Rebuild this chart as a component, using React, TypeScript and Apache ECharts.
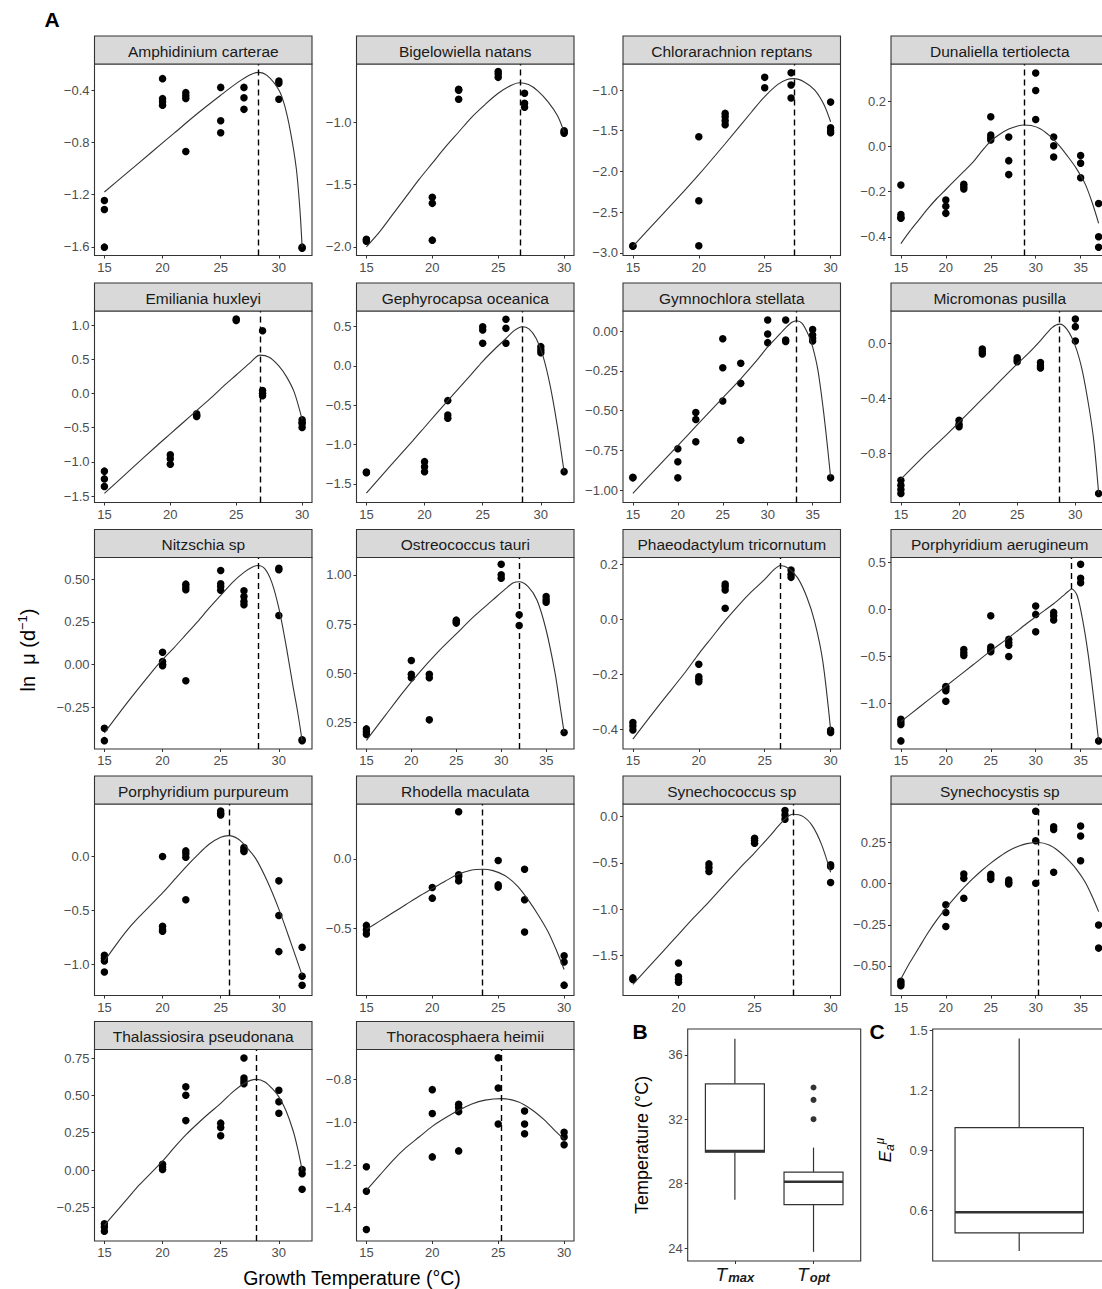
import React, { useEffect, useRef } from "react";
import * as echarts from "echarts";

const FONT = "'Liberation Sans', Arial, Helvetica, sans-serif";

// ---------- DATA ----------
const speciesNames = [
  "Amphidinium carterae", "Bigelowiella natans", "Chlorarachnion reptans", "Dunaliella tertiolecta",
  "Emiliania huxleyi", "Gephyrocapsa oceanica", "Gymnochlora stellata", "Micromonas pusilla",
  "Nitzschia sp", "Ostreococcus tauri", "Phaeodactylum tricornutum", "Porphyridium aerugineum",
  "Porphyridium purpureum", "Rhodella maculata", "Synechococcus sp", "Synechocystis sp",
  "Thalassiosira pseudonana", "Thoracosphaera heimii",
];

// growth temperature (°C), ln growth rate
const amphidiniumPoints = [[15,-1.245],[15,-1.314],[15,-1.602],[20,-0.313],[20,-0.466],[20,-0.489],[20,-0.517],[22,-0.42],[22,-0.443],[22,-0.464],[22,-0.87],[25,-0.38],[25,-0.635],[25,-0.727],[27,-0.38],[27,-0.459],[27,-0.548],[30,-0.331],[30,-0.349],[30,-0.471],[32,-1.602],[32,-1.61]];
const amphidiniumCurve = [[15,-1.18],[17,-1.03],[19,-0.88],[21,-0.73],[23,-0.58],[25,-0.44],[26.5,-0.34],[27.5,-0.285],[28.2,-0.265],[29,-0.29],[30,-0.4],[30.5,-0.52],[31,-0.72],[31.5,-1.0],[31.8,-1.3],[32,-1.6]];

const bigelowiellaPoints = [[15,-1.94],[15,-1.955],[15,-1.945],[20,-1.604],[20,-1.652],[20,-1.947],[22,-0.738],[22,-0.818],[22,-0.745],[25,-0.596],[25,-0.615],[25,-0.642],[27,-0.77],[27,-0.85],[27,-0.882],[30,-1.07],[30,-1.08],[30,-1.09]];
const bigelowiellaCurve = [[15,-2.0],[16,-1.88],[17,-1.74],[18,-1.6],[19,-1.46],[20,-1.33],[21,-1.2],[22,-1.08],[23,-0.96],[24,-0.86],[25,-0.77],[26,-0.705],[26.6,-0.685],[27.3,-0.7],[28,-0.75],[28.8,-0.84],[29.5,-0.95],[30,-1.08]];

const chlorarachnionPoints = [[15,-2.914],[15,-2.92],[20,-1.574],[20,-2.361],[20,-2.914],[22,-1.287],[22,-1.328],[22,-1.377],[22,-1.426],[25,-0.844],[25,-0.971],[27,-0.787],[27,-0.939],[27,-1.098],[30,-1.148],[30,-1.463],[30,-1.5],[30,-1.525]];
const chlorarachnionCurve = [[15,-2.92],[17,-2.57],[19,-2.22],[20,-2.04],[22,-1.66],[24,-1.27],[25,-1.08],[26,-0.93],[26.7,-0.87],[27.2,-0.86],[28,-0.9],[28.8,-1.0],[29.5,-1.18],[30,-1.39]];

const dunaliellaPoints = [[15,-0.17],[15,-0.301],[15,-0.314],[15,-0.318],[20,-0.237],[20,-0.264],[20,-0.296],[22,-0.167],[22,-0.178],[22,-0.188],[25,0.133],[25,0.052],[25,0.04],[25,0.03],[27,0.043],[27,-0.062],[27,-0.124],[30,0.327],[30,0.249],[30,0.121],[32,0.043],[32,0.004],[32,-0.046],[35,-0.039],[35,-0.073],[35,-0.138],[37,-0.252],[37,-0.4],[37,-0.446]];
const dunaliellaCurve = [[15,-0.43],[16,-0.375],[17,-0.325],[18,-0.275],[19,-0.23],[20,-0.19],[21,-0.15],[22,-0.11],[23,-0.07],[24,-0.02],[25,0.025],[26,0.055],[27,0.078],[28,0.092],[28.7,0.096],[29.5,0.094],[30.5,0.08],[31.5,0.05],[32.5,0.01],[33.5,-0.04],[34.5,-0.095],[35.5,-0.165],[36.3,-0.25],[37,-0.34]];

const emilianiaPoints = [[15,-1.135],[15,-1.248],[15,-1.36],[20,-0.897],[20,-0.955],[20,-1.033],[22,-0.297],[22,-0.32],[22,-0.336],[25,1.087],[25,1.067],[27,0.916],[27,0.044],[27,0.005],[27,-0.034],[30,-0.385],[30,-0.42],[30,-0.443],[30,-0.497]];
const emilianiaCurve = [[15,-1.46],[17,-1.11],[19,-0.76],[20,-0.59],[21,-0.42],[22,-0.25],[23,-0.08],[24,0.1],[25,0.27],[26,0.44],[26.8,0.56],[27.5,0.53],[28.2,0.41],[28.8,0.25],[29.4,0.02],[30,-0.38]];

const gephyrocapsaPoints = [[15,-1.35],[15,-1.36],[20,-1.218],[20,-1.282],[20,-1.345],[22,-0.441],[22,-0.624],[22,-0.666],[25,0.5],[25,0.458],[25,0.289],[27,0.594],[27,0.479],[27,0.289],[30,0.246],[30,0.204],[30,0.17],[32,-1.345]];
const gephyrocapsaCurve = [[15,-1.62],[17,-1.28],[19,-0.95],[20,-0.78],[22,-0.44],[24,-0.11],[25,0.06],[26,0.21],[27,0.35],[27.7,0.45],[28.4,0.5],[29,0.47],[29.6,0.35],[30.2,0.12],[30.8,-0.25],[31.4,-0.75],[32,-1.35]];

const gymnochloraPoints = [[15,-0.923],[15,-0.92],[20,-0.74],[20,-0.822],[20,-0.923],[22,-0.512],[22,-0.556],[22,-0.696],[25,-0.048],[25,-0.231],[25,-0.44],[27,-0.203],[27,-0.329],[27,-0.686],[30,0.069],[30,-0.019],[30,-0.073],[32,0.069],[32,-0.057],[32,-0.065],[35,0.01],[35,-0.025],[35,-0.046],[35,-0.063],[37,-0.923]];
const gymnochloraCurve = [[15,-1.02],[17,-0.9],[19,-0.78],[21,-0.66],[23,-0.54],[25,-0.42],[27,-0.3],[29,-0.17],[30,-0.1],[31,-0.04],[32,0.02],[32.7,0.055],[33.2,0.065],[33.8,0.05],[34.5,-0.02],[35,-0.1],[35.6,-0.25],[36.2,-0.5],[36.6,-0.7],[37,-0.92]];

const micromonasPoints = [[15,-0.998],[15,-1.034],[15,-1.066],[15,-1.095],[20,-0.56],[20,-0.589],[20,-0.608],[22,-0.041],[22,-0.061],[22,-0.078],[25,-0.105],[25,-0.122],[25,-0.134],[27,-0.139],[27,-0.163],[27,-0.18],[30,0.178],[30,0.122],[30,0.017],[32,-1.095]];
const micromonasCurve = [[15,-0.99],[17,-0.82],[19,-0.66],[21,-0.49],[23,-0.32],[25,-0.15],[26,-0.07],[27,0.02],[28,0.115],[28.65,0.14],[29.3,0.1],[30,-0.02],[30.6,-0.2],[31.2,-0.48],[31.6,-0.72],[32,-1.09]];

const nitzschiaPoints = [[15,-0.373],[15,-0.445],[20,0.072],[20,0.018],[20,0.002],[20,-0.006],[22,0.471],[22,0.455],[22,0.438],[22,-0.094],[25,0.551],[25,0.473],[25,0.457],[25,0.436],[27,0.432],[27,0.398],[27,0.369],[27,0.35],[30,0.564],[30,0.555],[30,0.287],[32,-0.445],[32,-0.44]];
const nitzschiaCurve = [[15,-0.4],[17,-0.22],[19,-0.05],[20,0.03],[21,0.1],[22,0.175],[23,0.25],[24,0.33],[25,0.405],[26,0.48],[27,0.54],[27.7,0.57],[28.2,0.58],[28.8,0.56],[29.4,0.48],[30,0.33],[30.6,0.12],[31.2,-0.12],[31.6,-0.27],[32,-0.445]];

const ostreococcusPoints = [[15,0.218],[15,0.204],[15,0.19],[20,0.565],[20,0.495],[20,0.478],[22,0.495],[22,0.478],[22,0.264],[25,0.77],[25,0.76],[25,0.755],[30,1.054],[30,1.0],[30,0.983],[32,0.797],[32,0.743],[35,0.89],[35,0.873],[35,0.861],[37,0.2]];
const ostreococcusCurve = [[15,0.16],[17,0.28],[19,0.4],[21,0.51],[23,0.61],[25,0.7],[27,0.79],[29,0.87],[30.5,0.93],[31.3,0.958],[32,0.965],[33,0.94],[34,0.87],[35,0.72],[36,0.5],[36.5,0.35],[37,0.2]];

const phaeodactylumPoints = [[15,-0.374],[15,-0.387],[15,-0.401],[20,-0.163],[20,-0.208],[20,-0.217],[20,-0.226],[22,0.128],[22,0.119],[22,0.106],[22,0.04],[27,0.179],[27,0.163],[27,0.152],[30,-0.402],[30,-0.41]];
const phaeodactylumCurve = [[15,-0.434],[17,-0.31],[19,-0.19],[20,-0.125],[21,-0.065],[22,-0.005],[23,0.05],[24,0.1],[25,0.145],[25.7,0.18],[26.2,0.195],[26.8,0.185],[27.5,0.15],[28.2,0.08],[28.8,-0.01],[29.4,-0.15],[30,-0.4]];

const aerugineumPoints = [[15,-1.164],[15,-1.193],[15,-1.22],[15,-1.394],[20,-0.817],[20,-0.839],[20,-0.863],[20,-0.973],[22,-0.425],[22,-0.46],[22,-0.488],[25,-0.067],[25,-0.4],[25,-0.425],[25,-0.449],[27,-0.318],[27,-0.35],[27,-0.379],[27,-0.499],[30,0.035],[30,-0.053],[30,-0.237],[32,-0.032],[32,-0.067],[32,-0.113],[35,0.478],[35,0.329],[35,0.283],[37,-1.394]];
const aerugineumCurve = [[15,-1.19],[17,-1.04],[19,-0.89],[21,-0.74],[23,-0.59],[25,-0.44],[27,-0.3],[29,-0.15],[30,-0.08],[31,-0.01],[32,0.06],[33,0.14],[33.6,0.19],[34,0.216],[34.6,0.15],[35.2,-0.1],[35.8,-0.45],[36.4,-0.9],[37,-1.39]];

const purpureumPoints = [[15,-0.917],[15,-0.945],[15,-0.969],[15,-1.071],[20,-0.003],[20,-0.649],[20,-0.68],[20,-0.695],[22,0.049],[22,0.022],[22,-0.009],[22,-0.403],[25,0.418],[25,0.397],[25,0.382],[27,0.08],[27,0.058],[27,0.043],[30,-0.228],[30,-0.548],[30,-0.883],[32,-0.843],[32,-1.111],[32,-1.194]];
const purpureumCurve = [[15,-0.97],[16,-0.82],[17,-0.68],[18,-0.56],[19,-0.45],[20,-0.34],[21,-0.22],[22,-0.1],[23,0.01],[24,0.11],[25,0.175],[25.7,0.19],[26.5,0.16],[27,0.11],[28,-0.02],[29,-0.23],[30,-0.49],[31,-0.79],[32,-1.1]];

const rhodellaPoints = [[15,-0.481],[15,-0.512],[15,-0.543],[20,-0.207],[20,-0.284],[22,0.341],[22,-0.115],[22,-0.127],[22,-0.159],[25,-0.012],[25,-0.188],[25,-0.204],[27,-0.075],[27,-0.296],[27,-0.529],[30,-0.7],[30,-0.745],[30,-0.913]];
const rhodellaCurve = [[15,-0.51],[16,-0.45],[17,-0.39],[18,-0.33],[19,-0.27],[20,-0.215],[21,-0.16],[22,-0.11],[23,-0.08],[23.8,-0.075],[24.6,-0.085],[25.5,-0.12],[26.5,-0.2],[27.3,-0.3],[28,-0.4],[28.8,-0.53],[29.5,-0.68],[30,-0.8]];

const synechococcusPoints = [[17,-1.74],[17,-1.758],[20,-1.579],[20,-1.729],[20,-1.758],[20,-1.787],[22,-0.51],[22,-0.549],[22,-0.592],[25,-0.233],[25,-0.258],[25,-0.287],[27,0.065],[27,0.018],[27,-0.029],[30,-0.52],[30,-0.538],[30,-0.71]];
const synechococcusCurve = [[17,-1.81],[18,-1.63],[19,-1.45],[20,-1.27],[21,-1.09],[22,-0.92],[23,-0.74],[24,-0.56],[25,-0.39],[26,-0.21],[26.8,-0.06],[27.5,0.025],[28.2,0.0],[28.8,-0.1],[29.4,-0.3],[30,-0.6]];

const synechocystisPoints = [[15,-0.594],[15,-0.608],[15,-0.62],[20,-0.129],[20,-0.176],[20,-0.261],[22,0.059],[22,0.032],[22,-0.089],[25,0.057],[25,0.042],[25,0.026],[27,0.022],[27,-0.002],[27,0.008],[30,0.44],[30,0.261],[30,0.002],[32,0.346],[32,0.329],[32,0.069],[35,0.35],[35,0.289],[35,0.139],[37,-0.251],[37,-0.392]];
const synechocystisCurve = [[15,-0.58],[16,-0.48],[17,-0.39],[18,-0.3],[19,-0.22],[20,-0.15],[21,-0.085],[22,-0.025],[23,0.03],[24,0.08],[25,0.125],[26,0.165],[27,0.2],[28,0.225],[29,0.243],[30.3,0.25],[31.5,0.235],[32.5,0.2],[33.5,0.15],[34.5,0.09],[35.5,0.01],[36.3,-0.08],[37,-0.17]];

const thalassiosiraPoints = [[15,-0.36],[15,-0.382],[15,-0.409],[20,0.038],[20,0.02],[20,0.004],[22,0.557],[22,0.501],[22,0.331],[25,0.314],[25,0.285],[25,0.23],[27,0.75],[27,0.616],[27,0.596],[27,0.578],[30,0.534],[30,0.457],[30,0.38],[32,0.004],[32,-0.024],[32,-0.128]];
const thalassiosiraCurve = [[15,-0.37],[16,-0.28],[17,-0.19],[18,-0.1],[19,-0.02],[20,0.06],[21,0.15],[22,0.235],[23,0.31],[24,0.38],[25,0.446],[26,0.52],[27,0.58],[28.07,0.607],[28.8,0.59],[29.5,0.54],[30,0.49],[30.6,0.4],[31.2,0.27],[31.6,0.15],[32,0.0]];

const thoracosphaeraPoints = [[15,-1.209],[15,-1.324],[15,-1.503],[20,-0.848],[20,-0.96],[20,-1.163],[22,-0.917],[22,-0.932],[22,-0.951],[22,-1.135],[25,-0.699],[25,-0.84],[25,-1.009],[27,-0.948],[27,-1.009],[27,-1.055],[30,-1.048],[30,-1.07],[30,-1.106]];
const thoracosphaeraCurve = [[15,-1.32],[16,-1.25],[17,-1.18],[18,-1.12],[19,-1.07],[20,-1.02],[21,-0.98],[22,-0.945],[23,-0.915],[24,-0.897],[25.26,-0.89],[26.5,-0.905],[27.5,-0.94],[28.5,-0.99],[29.3,-1.04],[30,-1.08]];

const pointSets = [amphidiniumPoints, bigelowiellaPoints, chlorarachnionPoints, dunaliellaPoints, emilianiaPoints, gephyrocapsaPoints, gymnochloraPoints, micromonasPoints, nitzschiaPoints, ostreococcusPoints, phaeodactylumPoints, aerugineumPoints, purpureumPoints, rhodellaPoints, synechococcusPoints, synechocystisPoints, thalassiosiraPoints, thoracosphaeraPoints];
const curveSets = [amphidiniumCurve, bigelowiellaCurve, chlorarachnionCurve, dunaliellaCurve, emilianiaCurve, gephyrocapsaCurve, gymnochloraCurve, micromonasCurve, nitzschiaCurve, ostreococcusCurve, phaeodactylumCurve, aerugineumCurve, purpureumCurve, rhodellaCurve, synechococcusCurve, synechocystisCurve, thalassiosiraCurve, thoracosphaeraCurve];

// optimum temperature (dashed line)
const toptValues = [28.23, 26.64, 27.22, 28.74, 26.81, 28.36, 33.17, 28.65, 28.23, 32.0, 26.2, 34.0, 25.73, 23.79, 27.55, 30.28, 28.07, 25.26];

// y axis ranges and tick labels
const yMins = [-1.666, -2.07, -3.033, -0.483, -1.593, -1.738, -1.078, -1.16, -0.494, 0.116, -0.47, -1.48, -1.289, -0.988, -1.93, -0.68, -0.475, -1.557];
const yMaxs = [-0.201, -0.535, -0.68, 0.367, 1.205, 0.70, 0.126, 0.236, 0.627, 1.088, 0.224, 0.55, 0.483, 0.397, 0.136, 0.484, 0.807, -0.66];
const yTicks = [
  [-1.6, -1.2, -0.8, -0.4], [-2.0, -1.5, -1.0], [-3.0, -2.5, -2.0, -1.5, -1.0], [-0.4, -0.2, 0.0, 0.2],
  [-1.5, -1.0, -0.5, 0.0, 0.5, 1.0], [-1.5, -1.0, -0.5, 0.0, 0.5], [-1.0, -0.75, -0.5, -0.25, 0.0], [-0.8, -0.4, 0.0],
  [-0.25, 0.0, 0.25, 0.5], [0.25, 0.5, 0.75, 1.0], [-0.4, -0.2, 0.0, 0.2], [-1.0, -0.5, 0.0, 0.5],
  [-1.0, -0.5, 0.0], [-0.5, 0.0], [-1.5, -1.0, -0.5, 0.0], [-0.5, -0.25, 0.0, 0.25],
  [-0.25, 0.0, 0.25, 0.5, 0.75], [-1.4, -1.2, -1.0, -0.8],
];
const yDecimals = [1, 1, 1, 1, 1, 1, 2, 1, 2, 2, 1, 1, 1, 1, 1, 2, 2, 1];
const xTickCandidates = [15, 20, 25, 30, 35];

// Panel B and C boxplots: [lower whisker, Q1, median, Q3, upper whisker]
const boxLabels = ["max", "opt"];
const tmaxStats = [27.0, 29.95, 30.03, 34.2, 37.0];
const toptStats = [23.77, 26.7, 28.12, 28.72, 30.24];
const toptOutliers = [32.0, 33.2, 33.97];
const tempTicks = [24, 28, 32, 36];
const eaStats = [0.399, 0.489, 0.592, 1.015, 1.46];
const eaTicks = [0.6, 0.9, 1.2, 1.5];

// ---------- LAYOUT ----------
const colLefts = [94.5, 356.5, 623, 891];
const rowTops = [64, 311, 557.5, 804, 1049.5];
const panelW = 217.5;
const panelH = 191.5;
const stripH = 28;
const TICK_COLOR = "#4d4d4d";
const TICK_SIZE = 13;

function fmt(v: number, dec: number) {
  const s = Math.abs(v).toFixed(dec);
  return v < -1e-9 ? "\u2212" + s : s;
}

const hiddenLine = { show: false, onZero: false };

function buildOption() {
  const grids: any[] = [];
  const xAxes: any[] = [];
  const yAxes: any[] = [];
  const series: any[] = [];
  const graphics: any[] = [];

  speciesNames.forEach((name, i) => {
    const r = Math.floor(i / 4);
    const c = i % 4;
    const left = colLefts[c];
    const top = rowTops[r];
    const pts = pointSets[i];
    const xs = pts.map((p) => p[0]);
    const xLo = Math.min(...xs);
    const xHi = Math.max(...xs);
    const pad = (xHi - xLo) * 0.05;
    const xTicks = xTickCandidates.filter((t) => t >= xLo - pad && t <= xHi + pad);

    grids.push({
      left, top, width: panelW, height: panelH, show: true,
      borderColor: "#333", borderWidth: 1.1, backgroundColor: "#fff",
      containLabel: false, outerBoundsMode: "none",
    });
    xAxes.push({
      gridIndex: i, type: "value", min: xLo - pad, max: xHi + pad, position: "bottom",
      axisLine: hiddenLine, splitLine: { show: false },
      axisTick: { show: true, length: 3, customValues: xTicks, lineStyle: { color: "#333", width: 1 } },
      axisLabel: { customValues: xTicks, fontSize: TICK_SIZE, color: TICK_COLOR, fontFamily: FONT, margin: 5,
        formatter: (v: number) => String(v) },
    });
    yAxes.push({
      gridIndex: i, type: "value", min: yMins[i], max: yMaxs[i], position: "left",
      axisLine: hiddenLine, splitLine: { show: false },
      axisTick: { show: true, length: 3, customValues: yTicks[i], lineStyle: { color: "#333", width: 1 } },
      axisLabel: { customValues: yTicks[i], fontSize: TICK_SIZE, color: TICK_COLOR, fontFamily: FONT, margin: 5,
        formatter: (v: number) => fmt(v, yDecimals[i]) },
    });
    series.push({
      type: "scatter", xAxisIndex: i, yAxisIndex: i, data: pts,
      symbol: "circle", symbolSize: 7.5, itemStyle: { color: "#000", opacity: 1 }, silent: true, z: 2,
    });
    series.push({
      type: "line", xAxisIndex: i, yAxisIndex: i, data: curveSets[i],
      showSymbol: false, smooth: 0.3, lineStyle: { color: "#333", width: 1.1 }, silent: true, z: 3,
      markLine: {
        silent: true, symbol: ["none", "none"], label: { show: false },
        lineStyle: { type: [6, 4], color: "#000", width: 1.4 },
        data: [{ xAxis: toptValues[i] }],
      },
    });
    graphics.push({
      type: "rect", shape: { x: left, y: top - stripH, width: panelW, height: stripH },
      style: { fill: "#d9d9d9", stroke: "#333", lineWidth: 1.1 }, z: 10,
    });
    graphics.push({
      type: "text", x: left + panelW / 2, y: top - stripH / 2 + 1, z: 11,
      style: { text: name, fontSize: 15.5, fontFamily: FONT, fill: "#1a1a1a",
        align: "center", verticalAlign: "middle", textAlign: "center", textVerticalAlign: "middle" },
    });
  });

  // ---- Panel B ----
  const bIdx = speciesNames.length;
  grids.push({ left: 687.7, top: 1029, width: 173, height: 232, show: true, borderColor: "#333",
    borderWidth: 1.1, backgroundColor: "#fff", containLabel: false, outerBoundsMode: "none" });
  xAxes.push({
    gridIndex: bIdx, type: "value", min: 0.4, max: 2.6, position: "bottom",
    axisLine: hiddenLine, splitLine: { show: false },
    axisTick: { show: true, length: 3, customValues: [1, 2], lineStyle: { color: "#333" } },
    axisLabel: {
      customValues: [1, 2], margin: 3,
      formatter: (v: number) => "{t|T}{s|" + boxLabels[Math.round(v) - 1] + "}",
      rich: {
        t: { fontSize: 19, fontStyle: "italic", color: "#1a1a1a", fontFamily: FONT, lineHeight: 20 },
        s: { fontSize: 13, fontStyle: "italic", fontWeight: "bold", color: "#1a1a1a", fontFamily: FONT,
          verticalAlign: "bottom", lineHeight: 20, padding: [5, 0, 0, 1] },
      },
    },
  });
  yAxes.push({
    gridIndex: bIdx, type: "value", min: 23.2, max: 37.6, position: "left",
    axisLine: hiddenLine, splitLine: { show: false },
    axisTick: { show: true, length: 3, customValues: tempTicks, lineStyle: { color: "#333" } },
    axisLabel: { customValues: tempTicks, fontSize: TICK_SIZE, color: TICK_COLOR, fontFamily: FONT, margin: 5 },
  });

  // ---- Panel C ----
  const cIdx = bIdx + 1;
  grids.push({ left: 932.7, top: 1029, width: 173, height: 232, show: true, borderColor: "#333",
    borderWidth: 1.1, backgroundColor: "#fff", containLabel: false, outerBoundsMode: "none" });
  xAxes.push({
    gridIndex: cIdx, type: "value", min: 0.4, max: 1.6, position: "bottom",
    axisLine: hiddenLine, splitLine: { show: false },
    axisTick: { show: false }, axisLabel: { show: false },
  });
  yAxes.push({
    gridIndex: cIdx, type: "value", min: 0.349, max: 1.507, position: "left",
    axisLine: hiddenLine, splitLine: { show: false },
    axisTick: { show: true, length: 3, customValues: eaTicks, lineStyle: { color: "#333" } },
    axisLabel: { customValues: eaTicks, fontSize: TICK_SIZE, color: TICK_COLOR, fontFamily: FONT, margin: 5,
      formatter: (v: number) => v.toFixed(1) },
  });

  const boxRender = (bw: number) => (params: any, api: any) => {
    const x = api.value(0);
    const lo = api.coord([x, api.value(1)]);
    const q1 = api.coord([x, api.value(2)]);
    const med = api.coord([x, api.value(3)]);
    const q3 = api.coord([x, api.value(4)]);
    const hi = api.coord([x, api.value(5)]);
    const half = api.size([bw, 0])[0] / 2;
    const st = { stroke: "#333", lineWidth: 1.2, fill: "none" };
    return {
      type: "group",
      children: [
        { type: "line", shape: { x1: q3[0], y1: q3[1], x2: hi[0], y2: hi[1] }, style: st },
        { type: "line", shape: { x1: q1[0], y1: q1[1], x2: lo[0], y2: lo[1] }, style: st },
        { type: "rect", shape: { x: q1[0] - half, y: q3[1], width: half * 2, height: q1[1] - q3[1] },
          style: { stroke: "#333", lineWidth: 1.2, fill: "#fff" } },
        { type: "line", shape: { x1: med[0] - half, y1: med[1], x2: med[0] + half, y2: med[1] },
          style: { stroke: "#333", lineWidth: 2.6 } },
      ],
    };
  };

  series.push({
    type: "custom", xAxisIndex: bIdx, yAxisIndex: bIdx, silent: true,
    encode: { x: 0, y: [1, 2, 3, 4, 5] },
    data: [[1, ...tmaxStats], [2, ...toptStats]],
    renderItem: boxRender(0.75),
  });
  series.push({
    type: "scatter", xAxisIndex: bIdx, yAxisIndex: bIdx, silent: true,
    data: toptOutliers.map((v) => [2, v]), symbolSize: 6, itemStyle: { color: "#333", opacity: 1 },
  });
  series.push({
    type: "custom", xAxisIndex: cIdx, yAxisIndex: cIdx, silent: true,
    encode: { x: 0, y: [1, 2, 3, 4, 5] },
    data: [[1, ...eaStats]],
    renderItem: boxRender(0.89),
  });

  // ---- Labels and titles ----
  const letter = (t: string, x: number, y: number) => ({
    type: "text", x, y, z: 20,
    style: { text: t, fontSize: 21, fontWeight: "bold", fontFamily: FONT, fill: "#000",
      align: "center", verticalAlign: "middle", textAlign: "center", textVerticalAlign: "middle" },
  });
  graphics.push(letter("A", 52, 19));
  graphics.push(letter("B", 640, 1031));
  graphics.push(letter("C", 877, 1031));

  graphics.push({
    type: "text", x: 28, y: 650, rotation: Math.PI / 2, z: 20,
    style: {
      text: "{n|ln  \u03bc (d}{s|\u22121}{n|)}",
      align: "center", verticalAlign: "middle", textAlign: "center", textVerticalAlign: "middle",
      rich: {
        n: { fontSize: 20, fontFamily: FONT, fill: "#000", color: "#000", lineHeight: 24 },
        s: { fontSize: 13, fontFamily: FONT, fill: "#000", color: "#000", verticalAlign: "top", lineHeight: 24, padding: [0, 0, 8, 0] },
      },
    },
  });
  graphics.push({
    type: "text", x: 352, y: 1278, z: 20,
    style: { text: "Growth Temperature (\u00b0C)", fontSize: 19.5, fontFamily: FONT, fill: "#000",
      align: "center", verticalAlign: "middle", textAlign: "center", textVerticalAlign: "middle" },
  });
  graphics.push({
    type: "text", x: 642, y: 1145, rotation: Math.PI / 2, z: 20,
    style: { text: "Temperature (\u00b0C)", fontSize: 18, fontFamily: FONT, fill: "#000",
      align: "center", verticalAlign: "middle", textAlign: "center", textVerticalAlign: "middle" },
  });
  graphics.push({
    type: "text", x: 885, y: 1150, rotation: Math.PI / 2, z: 20,
    style: {
      text: "{e|E}{a|a}{m|\u03bc}",
      align: "center", verticalAlign: "middle", textAlign: "center", textVerticalAlign: "middle",
      rich: {
        e: { fontSize: 17, fontStyle: "italic", fontFamily: FONT, fill: "#000", color: "#000", lineHeight: 22 },
        a: { fontSize: 12, fontStyle: "italic", fontFamily: FONT, fill: "#000", color: "#000", verticalAlign: "bottom", lineHeight: 22, padding: [8, 0, 0, 0] },
        m: { fontSize: 12, fontStyle: "italic", fontFamily: FONT, fill: "#000", color: "#000", verticalAlign: "top", lineHeight: 22, padding: [0, 0, 8, 0] },
      },
    },
  });

  return {
    animation: false,
    backgroundColor: "#fff",
    grid: grids,
    xAxis: xAxes,
    yAxis: yAxes,
    series,
    graphic: { elements: graphics },
  };
}

export default function App() {
  const ref = useRef<HTMLDivElement>(null);
  useEffect(() => {
    if (!ref.current) return;
    const chart = echarts.init(ref.current, null, { renderer: "svg" });
    chart.setOption(buildOption() as any);
    return () => chart.dispose();
  }, []);
  return (
    <div
      ref={ref}
      style={{ position: "absolute", left: 0, top: 0, width: 1102, height: 1289, overflow: "hidden", background: "#fff" }}
    />
  );
}
